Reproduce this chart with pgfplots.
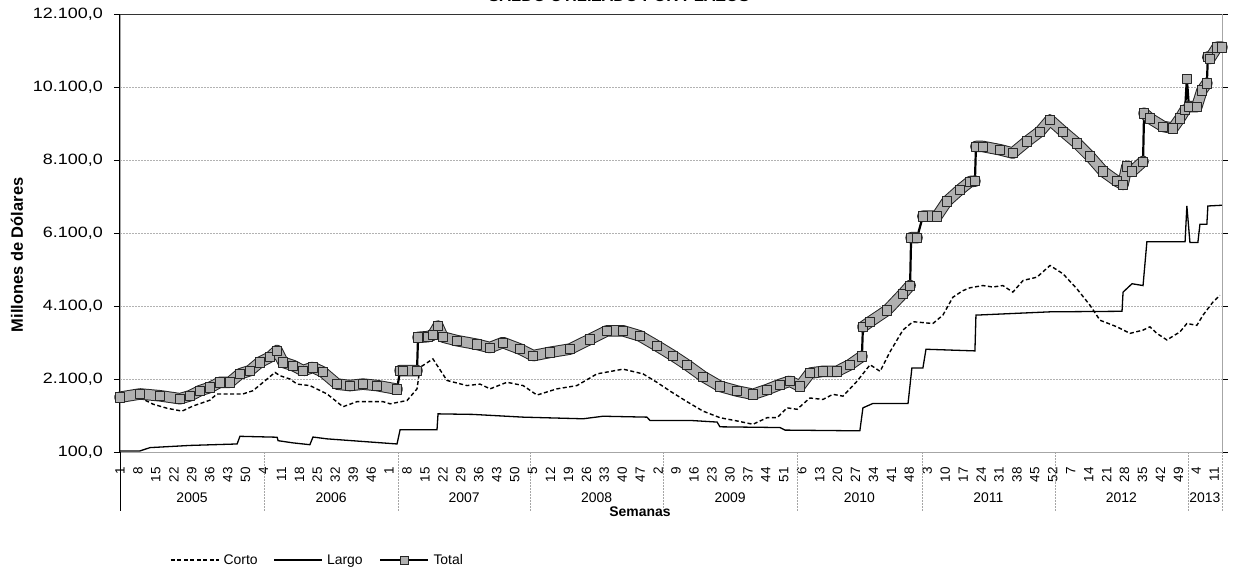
\documentclass[border=0pt]{standalone}
\usepackage{fontspec}
\setmainfont{Liberation Sans}
\newfontfamily\widesans[FakeStretch=1.2]{Liberation Sans}
\usepackage{pgfplots}
\pgfplotsset{compat=1.18}
\usepackage{pgfplotstable}

% x = week index (0 = week 1 of 2005), y = millones de dolares
\pgfplotstableread{
x y
0 1600
7.8 1690
15.6 1640
23.4 1560
27.3 1640
31.2 1780
35.1 1870
39.0 2010
42.9 2010
46.8 2240
50.7 2330
54.6 2560
58.5 2700
61.3 2880
63.6 2560
67.5 2470
71.4 2330
75.3 2420
79.2 2290
84.7 1960
89.7 1920
94.8 1960
100.3 1920
108.1 1820
nan nan
109.3 2330
110.4 2330
115.9 2330
nan nan
116.3 3240
120.0 3260
122.0 3300
124.1 3550
126.0 3250
131.5 3150
139.3 3050
144.4 2960
149.4 3100
156.1 2920
161.2 2740
167.8 2830
175.6 2920
183.4 3190
190.0 3420
196.3 3420
202.9 3280
209.5 3010
215.8 2740
221.2 2490
227.5 2170
234.1 1900
240.8 1770
247.0 1680
252.5 1810
257.5 1950
261.4 2040
265.3 1900
269.2 2260
274.3 2310
279.8 2310
284.8 2490
289.5 2720
nan nan
289.9 3530
292.7 3670
299.3 3980
305.5 4440
308.3 4660
nan nan
308.7 5970
311.0 5970
nan nan
313.3 6560
318.8 6560
322.7 6970
327.8 7290
331.7 7510
333.6 7520
nan nan
334.0 8470
336.7 8470
343.4 8380
348.4 8290
353.9 8610
359.0 8880
362.9 9200
368.0 8880
373.4 8560
378.5 8200
383.6 7790
389.0 7520
391.4 7430
392.9 7930
394.9 7790
399.2 8060
nan nan
399.6 9380
401.9 9240
407.0 9020
410.9 8970
413.6 9240
415.6 9470
nan nan
416.3 10330
nan nan
417.1 9560
420.2 9560
422.2 10010
424.1 10200
nan nan
424.5 10920
425.3 10880
428.1 11190
430 11190
}\total

\pgfplotstableread{
x y
0 130
7.8 130
11.7 220
27.3 280
45.7 320
46.8 530
61.3 505
61.7 410
67.5 350
74.1 300
75.3 510
80.8 460
108.1 320
109.3 710
123.7 710
124.1 1145
137.7 1130
157.3 1055
180.7 1010
188.5 1080
205.6 1055
206.8 965
222.4 965
233.0 920
234.1 790
257.5 770
259.5 700
288.7 680
289.9 1310
293.8 1430
307.5 1430
309.0 2400
313.3 2400
314.5 2915
333.6 2870
334.0 3850
362.9 3940
391.0 3955
391.4 4480
394.9 4710
399.2 4660
400.7 5860
415.6 5860
416.3 6840
417.5 5840
420.6 5840
421.4 6340
424.1 6340
424.5 6840
430 6860
}\largo

\pgfplotstableread{
x y
0 1590
7.8 1590
12.9 1410
18.3 1300
24.2 1220
28.5 1360
35.1 1520
37.8 1690
42.9 1690
48.0 1690
51.9 1780
57.4 2100
60.5 2280
62.4 2190
66.3 2100
69.1 1960
74.1 1920
80.8 1690
87.0 1340
92.5 1480
97.6 1480
102.6 1480
105.4 1420
112.0 1510
115.9 1830
117.1 2420
122.1 2650
127.6 2060
135.4 1920
140.5 1960
144.4 1830
151.0 2010
157.3 1920
162.7 1660
170.5 1830
178.3 1920
186.1 2240
196.3 2370
204.1 2240
209.5 2010
214.6 1770
221.2 1480
227.5 1220
234.1 1040
240.8 950
247.0 860
252.5 1040
256.4 1040
260.3 1310
264.2 1270
269.2 1580
274.3 1540
278.2 1680
282.1 1630
287.6 2040
292.7 2490
296.6 2310
300.5 2850
305.5 3440
309.4 3670
317.2 3620
321.1 3850
325.0 4340
328.9 4520
331.7 4600
336.7 4660
340.6 4620
344.5 4660
348.4 4480
352.4 4800
357.8 4890
362.9 5210
368.0 4980
373.4 4570
378.5 4120
382.4 3710
389.0 3530
394.1 3350
399.2 3440
401.9 3530
404.6 3350
408.5 3170
413.6 3390
416.3 3620
420.2 3570
422.6 3850
426.5 4210
429.2 4390
}\corto

\begin{document}
\begin{tikzpicture}
\begin{pgfinterruptboundingbox}
\begin{axis}[
  width=1102bp, height=438bp, scale only axis,
  xmin=0, xmax=430, ymin=100, ymax=12100,
  clip=false,
  axis line style={draw=gray!70, line width=0.6bp},
  ymajorgrids,
  grid style={gray!60, dash pattern=on 2bp off 1bp, line width=0.6bp},
  ytick={100,2100,4100,6100,8100,10100,12100},
  scaled y ticks=false,
  /pgf/number format/fixed,
  /pgf/number format/fixed zerofill,
  /pgf/number format/precision=1,
  /pgf/number format/use comma,
  /pgf/number format/1000 sep={.},
  /pgf/number format/assume math mode=true,
  yticklabel style={font=\widesans\fontsize{15}{15}\selectfont, inner sep=0pt},
  yticklabel shift=11bp,
  ytick style={black, line width=0.6bp},
  tick align=outside,
  major tick length=6bp,
  xtick={0,7,...,427},
  xticklabels={1,8,15,22,29,36,43,50,
    4,11,18,25,32,39,46,
    1,8,15,22,29,36,43,50,
    5,12,19,26,33,40,47,
    2,9,16,23,30,37,44,51,
    6,13,20,27,34,41,48,
    3,10,17,24,31,38,45,52,
    7,14,21,28,35,42,49,
    4,11},
  xtick style={draw=none},
  xticklabel style={rotate=90, anchor=east, inner sep=0pt, font=\fontsize{13.5}{13.5}\selectfont},
  xticklabel shift=9bp,
  title={SALDO UTILIZADO POR PLAZOS},
  title style={at={(axis description cs:0.4528,1)}, anchor=base, yshift=7bp, font=\bfseries\fontsize{16.5}{16.5}\selectfont, inner sep=0pt},
  xlabel={Semanas},
  xlabel style={at={(axis description cs:0.4719,-0.137)}, anchor=center, font=\bfseries\fontsize{14}{14}\selectfont},
  ylabel={Millones de Dólares},
  ylabel style={at={(axis description cs:-0.0935,0.45)}, anchor=center, font=\bfseries\fontsize{16.5}{16.5}\selectfont},
  legend image code/.code={\draw[mark repeat=2,mark phase=2,#1] plot coordinates {(0bp,0bp) (24bp,0bp) (48bp,0bp)};},
  legend style={at={(axis description cs:0.0454,-0.2466)}, anchor=west, draw=none, fill=none, legend columns=3,
    font=\fontsize{14}{14}\selectfont, inner xsep=0pt,
    nodes={inner xsep=4bp},
    /tikz/every even column/.append style={column sep=12bp}},
  legend cell align=left,
]
% decorations: axis frame and year separators
\draw[black, line width=1bp] (axis cs:0,100) -- (axis cs:0,12100);
\draw[gray!40!black, line width=0.8bp] (axis cs:0,12100) -- (axis cs:430,12100);
\draw[black, line width=0.8bp] (axis cs:0,100) -- ++(0,-55bp);
\draw[gray!70, line width=0.6bp, dash pattern=on 2bp off 1bp] (axis cs:430,100) -- ++(0,-55bp);
\draw[gray!70, line width=0.6bp, dash pattern=on 2bp off 1bp] (axis cs:430,100) -- (axis cs:430,12100);
\draw[gray!70, line width=0.6bp, dash pattern=on 2bp off 1bp] (axis cs:56.2,100) -- ++(0,-55bp);
\draw[gray!70, line width=0.6bp, dash pattern=on 2bp off 1bp] (axis cs:108.5,100) -- ++(0,-55bp);
\draw[gray!70, line width=0.6bp, dash pattern=on 2bp off 1bp] (axis cs:160,100) -- ++(0,-55bp);
\draw[gray!70, line width=0.6bp, dash pattern=on 2bp off 1bp] (axis cs:211.9,100) -- ++(0,-55bp);
\draw[gray!70, line width=0.6bp, dash pattern=on 2bp off 1bp] (axis cs:264.2,100) -- ++(0,-55bp);
\draw[gray!70, line width=0.6bp, dash pattern=on 2bp off 1bp] (axis cs:312.9,100) -- ++(0,-55bp);
\draw[gray!70, line width=0.6bp, dash pattern=on 2bp off 1bp] (axis cs:364.8,100) -- ++(0,-55bp);
\draw[gray!70, line width=0.6bp, dash pattern=on 2bp off 1bp] (axis cs:416.7,100) -- ++(0,-55bp);
\node[font=\fontsize{14}{14}\selectfont] at (axis cs:28.1,100) [yshift=-46bp] {2005};
\node[font=\fontsize{14}{14}\selectfont] at (axis cs:82.35,100) [yshift=-46bp] {2006};
\node[font=\fontsize{14}{14}\selectfont] at (axis cs:134.25,100) [yshift=-46bp] {2007};
\node[font=\fontsize{14}{14}\selectfont] at (axis cs:185.95,100) [yshift=-46bp] {2008};
\node[font=\fontsize{14}{14}\selectfont] at (axis cs:238.05,100) [yshift=-46bp] {2009};
\node[font=\fontsize{14}{14}\selectfont] at (axis cs:288.55,100) [yshift=-46bp] {2010};
\node[font=\fontsize{14}{14}\selectfont] at (axis cs:338.85,100) [yshift=-46bp] {2011};
\node[font=\fontsize{14}{14}\selectfont] at (axis cs:390.75,100) [yshift=-46bp] {2012};
\node[font=\fontsize{14}{14}\selectfont] at (axis cs:423.35,100) [yshift=-46bp] {2013};

\addplot[forget plot, black, line width=1.4bp, dash pattern=on 4bp off 2.5bp] table {\corto};
\addplot[forget plot, black, line width=1.3bp] table {\largo};
\addplot[forget plot, black, line width=2.2bp, unbounded coords=discard] table {\total};
\addplot[forget plot, gray!30!black, line width=11.5bp, line join=round, line cap=round, unbounded coords=jump] table {\total};
\addplot[forget plot, gray!62, line width=9.5bp, line join=round, line cap=round, unbounded coords=jump,
  mark=square*, mark size=4.6bp,
  mark options={solid, line width=0.6bp, fill=gray!62, draw=gray!30!black}] table {\total};

\addlegendimage{black, line width=1.4bp, dash pattern=on 4bp off 2.5bp}
\addlegendentry{Corto}
\addlegendimage{black, line width=1.3bp}
\addlegendentry{Largo}
\addlegendimage{black, line width=2.8bp, mark=square*, mark size=4bp, mark options={solid, line width=0.6bp, fill=gray!62, draw=gray!30!black}}
\addlegendentry{Total}
\end{axis}
\end{pgfinterruptboundingbox}
\path[use as bounding box] (-120bp,-119bp) rectangle (1113bp,452bp);
\end{tikzpicture}
\end{document}
